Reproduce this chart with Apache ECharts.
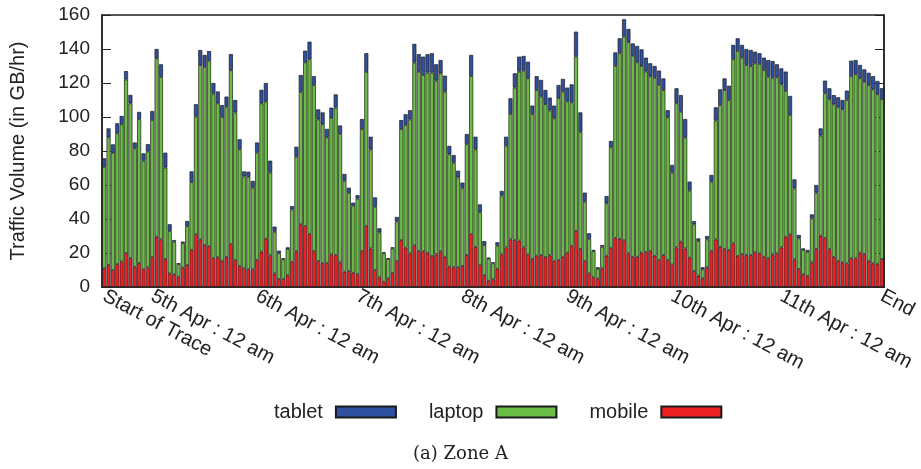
<!DOCTYPE html>
<html>
<head>
    <meta charset="utf-8">
    <title>Zone A</title>
    <script src="https://cdn.jsdelivr.net/npm/echarts@6/dist/echarts.min.js"></script>
</head>
<body style="margin:0">
    <div id="main" style="width: 921px;height: 469px;"></div>
    <script type="text/javascript">
    // hourly traffic (GB/hr), one bar per hour
    var mobile = [11,13,10,13.5,15,20,17,12,14,10.4,11.6,17.6,29.6,28,16.5,8,7.5,6,11.4,13,21.8,31,28,24.7,24,17,17.5,15.5,17.6,25.3,
        15.9,12.4,11,10.4,10.4,16,20.8,28.4,18.6,8,4.7,4.7,7,14.9,21,36.9,35.9,31.2,21.2,15.3,14,14.3,19.2,18.8,14.5,9,9.4,8.4,7.6,21.2,
        36,22.7,10,5.7,3.1,5.1,8.2,15.3,27.6,23.1,19.8,24.5,21.4,21,20.2,18.2,19.2,21,17.8,12,11.6,11.6,12.4,18.8,31.2,23.7,12.9,7,3.7,4.5,
        10.8,19.2,23.3,28,27.6,27.3,23.3,19.2,16.5,18.4,18.8,17.5,18.6,15.5,15.9,17.8,20.2,24.1,33.1,22.4,15.3,8,5.7,5.1,11,18.4,23.1,29,28.4,27.6,
        19.8,17.8,17.8,20.2,20.6,21.2,18.4,15.9,18.8,15.9,13.3,23.3,26.7,22.7,17.3,9.4,6.7,5.1,11.6,21.2,28,23.7,22.4,21.8,25.7,18.2,19.4,18.8,18.8,20.4,
        19.8,17.8,16.9,19.2,19.8,23.3,29.6,31,16.3,10.6,7.6,6.5,14.5,22.4,30.2,29,22.2,17.8,15.5,14.5,13.9,16.9,16.9,20.2,19.4,15.5,13.9,13.5,16.5];
    var laptop = [59.7,75,68.9,76.8,80.6,102,91,69.5,84.7,63.9,68.1,80.6,104.9,95.5,53.7,24.9,19.1,7.4,14.3,22.8,39.9,69.2,102.4,104.8,109.1,96.7,90.5,84.5,88.4,102.1,
        86.8,68.6,54,54.4,48,63,87.2,80.6,48.7,24.5,15.2,11.6,15.3,30.7,55.6,77.8,96.2,102.7,97.5,83.2,81.7,73.7,80.3,86.7,75.5,53.5,46,39.4,44.4,71.6,
        90.5,58.2,37.2,26.4,16.7,11.3,14.5,23.2,65.3,72.2,78.7,107.5,105.2,103.7,105.9,107.9,102.2,104.7,97.1,66,61.5,52.8,46,65.2,92.9,57.2,31,17.6,13,9.4,
        13.5,34.6,59.8,73.8,89.7,99.4,104,103.5,85.2,97.4,93.2,90,85.2,83.7,95.1,97.1,88.9,84.5,102.4,68.9,34.9,20.3,15.5,5.5,12.7,30.8,59.1,101,109.1,119.7,
        124.2,118.2,114.4,109.8,106.1,102.6,104.7,103,97,83.8,54,84.8,76.4,65.1,39.4,27.4,20.4,5.3,16.4,40.7,69.9,83.4,93.4,88.2,108.3,120.6,115.5,111.8,111.2,111.1,
        111.4,109.8,106.8,103.9,103.4,95.9,85.7,70.2,41.7,18,14.1,14.1,25.8,33.1,58.8,84.9,88.2,89.6,90.2,90,96.1,107.2,108.2,102.6,101.3,103.2,102.3,99.9,93.9];
    var tablet = [5,5.3,5,6,5,5,5,3.5,4.3,4.3,4.3,5.3,5.5,7.5,8.8,4,1,0.6,1,3,6.3,7.3,9,7,5.7,6.3,7,7,6,9.6,
        7.3,5.9,3,3,4,6,8,11,7,3,1.5,0.6,1,2,5.9,10,6.9,10.4,5.3,6,7,5,6,7.8,5,4,3,1.8,2,6,
        11,7.5,5.5,2.4,0.6,0.6,0.6,2.7,5.3,6.3,5.5,11,10.4,10.8,10.8,11.4,9.6,7.8,9.4,5,4.5,4,3,6,12.4,7.5,4.7,2.4,0.6,0.6,
        2,2.7,5.3,9.2,8.4,8.8,8.6,9.8,5,8.2,9.8,8.4,7.6,7.5,7.8,7.5,8.2,10.6,14.7,11.4,5.3,3.3,0.6,1,1,4.3,3.7,8,8.8,10.2,
        7.8,7.3,9.6,9.8,8.2,7.8,6.9,8.4,6.9,4.3,4.5,8.8,9.8,11,5.3,2,1.5,1.2,2,4,7.8,9.2,6.9,8.4,8.4,7.5,7.5,9.4,9.4,6.9,
        6.3,7.3,9.8,9.8,7.8,9.4,11.4,11.2,5.3,2,1,1.2,2.4,4.5,4.3,7.5,6.5,5.5,5.9,5.5,5.5,9,8.4,7.8,7.3,7.3,7.8,7.8,6.5];

    // which hour slots carry a label, and the label text
    var tickIndex = [0, 11, 35, 58, 82, 106, 130, 155, 178];
    var tickText = ['Start of Trace', '5th Apr : 12 am', '6th Apr : 12 am', '7th Apr : 12 am',
        '8th Apr : 12 am', '9th Apr : 12 am', '10th Apr : 12 am', '11th Apr : 12 am', 'End'];

    var hours = mobile.map((v, i) => String(i));

    var font = 'Liberation Sans, Arial, sans-serif';
    var edge = { borderColor: '#1a1a1a', borderWidth: 0.7 };

    var myChart = echarts.init(document.getElementById('main'));
    var option = {
        animation: false,
        title: {
            text: '(a) Zone A',
            left: 'center',
            top: 440,
            textStyle: { fontFamily: 'DejaVu Serif, serif', fontSize: 18, fontWeight: 'normal', color: '#222' }
        },
        legend: {
            data: ['tablet', 'laptop', 'mobile'],
            top: 397,
            left: 269,
            align: 'right',
            icon: 'rect',
            itemWidth: 60,
            itemHeight: 11,
            itemGap: 32,
            textStyle: { fontFamily: font, fontSize: 20, color: '#222', padding: [0, 8, 0, 0] }
        },
        grid: {
            left: 100,
            right: 37,
            top: 15,
            bottom: 182,
            show: true,
            borderColor: '#222',
            borderWidth: 1.5
        },
        xAxis: {
            type: 'category',
            data: hours,
            boundaryGap: true,
            axisLine: { lineStyle: { color: '#222', width: 1.5 } },
            axisTick: { show: false },
            axisLabel: {
                interval: (idx) => tickIndex.includes(idx),
                formatter: (val, idx) => {
                    var k = tickIndex.indexOf(idx);
                    return k >= 0 ? tickText[k] : '';
                },
                rotate: -28,
                margin: 8,
                hideOverlap: false,
                fontFamily: font,
                fontSize: 20,
                color: '#222'
            }
        },
        yAxis: [
            {
                type: 'value',
                min: 0,
                max: 160,
                interval: 20,
                name: 'Traffic Volume (in GB/hr)',
                nameLocation: 'middle',
                nameGap: 74,
                nameTextStyle: { fontFamily: font, fontSize: 20, color: '#222' },
                axisLine: { show: true, lineStyle: { color: '#222', width: 1.5 } },
                axisTick: { show: true, inside: true, length: 9, lineStyle: { color: '#222' } },
                axisLabel: { fontFamily: font, fontSize: 19, color: '#222', margin: 12 },
                splitLine: { show: false }
            },
            {
                type: 'value',
                min: 0,
                max: 160,
                interval: 20,
                position: 'right',
                axisLine: { show: true, lineStyle: { color: '#222', width: 1.5 } },
                axisTick: { show: true, inside: true, length: 9, lineStyle: { color: '#222' } },
                axisLabel: { show: false },
                splitLine: { show: false }
            }
        ],
        series: [
            { name: 'mobile', type: 'bar', stack: 'all', data: mobile, barCategoryGap: '8%',
              itemStyle: Object.assign({ color: '#ed2024' }, edge) },
            { name: 'laptop', type: 'bar', stack: 'all', data: laptop, barCategoryGap: '8%',
              itemStyle: Object.assign({ color: '#6cbd45' }, edge) },
            { name: 'tablet', type: 'bar', stack: 'all', data: tablet, barCategoryGap: '8%',
              itemStyle: Object.assign({ color: '#2f4f9f' }, edge) }
        ]
    };
    myChart.setOption(option);
    </script>
</body>
</html>
